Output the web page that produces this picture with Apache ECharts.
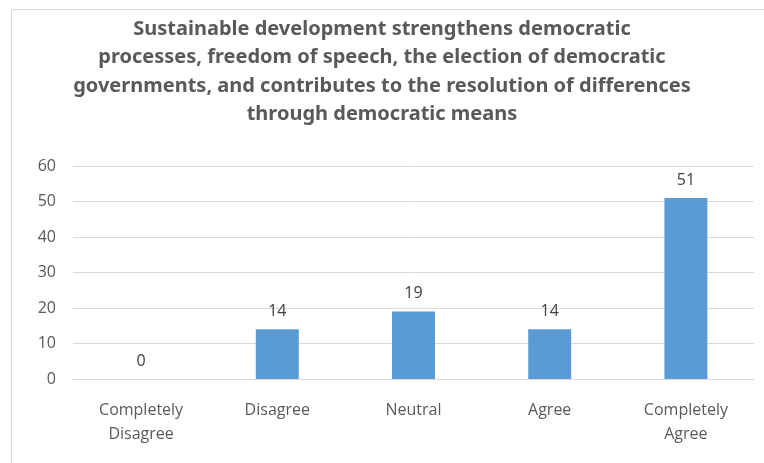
<!DOCTYPE html>
<html><head><meta charset="utf-8">
<script src="https://cdn.jsdelivr.net/npm/echarts@6/dist/echarts.min.js"></script>
<style>html,body{margin:0;padding:0;background:#fff}#c{width:764px;height:463px}</style>
</head><body><div id="c"></div>
<script>
const categories = ['Completely\nDisagree', 'Disagree', 'Neutral', 'Agree', 'Completely\nAgree'];
const values = [0, 14, 19, 14, 51];
const yTicks = [0, 10, 20, 30, 40, 50, 60];
const titleText = 'Sustainable development strengthens democratic\nprocesses, freedom of speech, the election of democratic\ngovernments, and contributes to the resolution of differences\nthrough democratic means';

const chart = echarts.init(document.getElementById('c'));
chart.setOption({
  animation: false,
  graphic: [{type: 'rect', shape: {x: 11.5, y: 9.5, width: 800, height: 500}, style: {fill: 'none', stroke: '#d9d9d9', lineWidth: 1}, z: -1}],
  title: {
    text: titleText, left: 'center', top: 10,
    textStyle: {fontFamily: 'Noto Sans', fontWeight: 'bold', fontSize: 20, color: '#595959', lineHeight: 28.5}
  },
  grid: {left: 73, right: 10, top: 166, bottom: 84, containLabel: false},
  xAxis: {
    type: 'category', data: categories,
    axisLine: {lineStyle: {color: '#d9d9d9'}}, axisTick: {show: false},
    axisLabel: {color: '#595959', fontFamily: 'Open Sans', fontSize: 16, lineHeight: 24, margin: 19, interval: 0}
  },
  yAxis: {
    type: 'value', min: yTicks[0], max: yTicks[yTicks.length - 1], interval: 10,
    axisLine: {show: false}, axisTick: {show: false},
    splitLine: {lineStyle: {color: '#d9d9d9'}},
    axisLabel: {color: '#595959', fontFamily: 'Open Sans', fontSize: 16, margin: 17}
  },
  series: [{
    type: 'bar', data: values, barWidth: 43,
    itemStyle: {color: '#5b9bd5'},
    label: {show: true, position: 'top', distance: 10, color: '#404040', fontFamily: 'Open Sans', fontSize: 16}
  }]
});
</script></body></html>
